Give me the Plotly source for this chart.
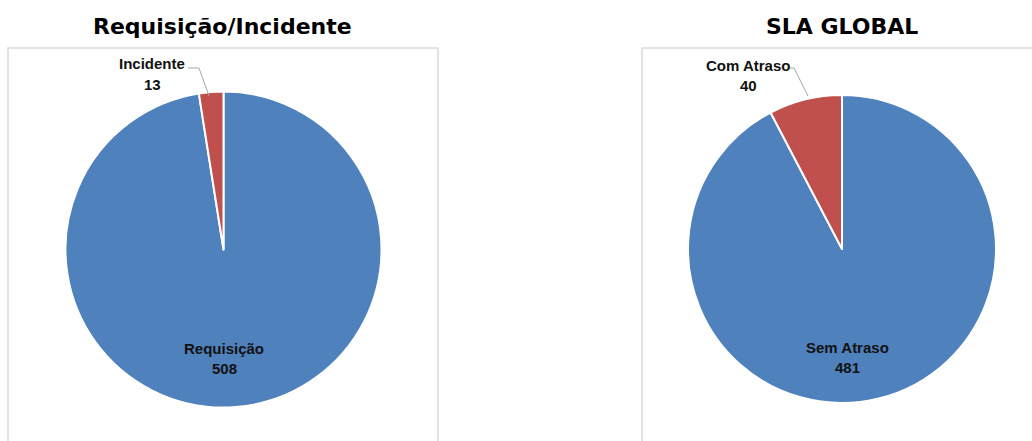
import plotly.graph_objects as go

W, H = 1032, 441

# Data
titles = ["Requisição/Incidente", "SLA GLOBAL"]
labels_1 = ["Requisição", "Incidente"]
values_1 = [508, 13]
labels_2 = ["Sem Atraso", "Com Atraso"]
values_2 = [481, 40]

BLUE = "#4F81BD"
RED = "#C0504D"
colors = [BLUE, RED]

def px_dom(cx, cy, r):
    # convert pixel centre/radius to paper domain (y measured from top in pixels)
    return dict(x=[(cx - r) / W, (cx + r) / W],
                y=[(H - cy - r) / H, (H - cy + r) / H])

fig = go.Figure()
fig.add_trace(go.Pie(labels=labels_1, values=values_1, sort=False,
                     direction="clockwise", rotation=0,
                     marker=dict(colors=colors, line=dict(color="white", width=2)),
                     textinfo="none", hoverinfo="label+value",
                     domain=px_dom(223.5, 249.5, 158), showlegend=False))
fig.add_trace(go.Pie(labels=labels_2, values=values_2, sort=False,
                     direction="clockwise", rotation=0,
                     marker=dict(colors=colors, line=dict(color="white", width=2)),
                     textinfo="none", hoverinfo="label+value",
                     domain=px_dom(842, 249, 154), showlegend=False))

def P(x, y):
    return x / W, 1 - y / H

shapes = []
# chart area boxes
for x0, x1 in [(8, 438), (642, 1040)]:
    a0, b0 = P(x0, 48)
    a1, b1 = P(x1, 460)
    shapes.append(dict(type="rect", xref="paper", yref="paper", x0=a0, x1=a1,
                       y0=b1, y1=b0, line=dict(color="#D9D9D9", width=1.5),
                       fillcolor="rgba(0,0,0,0)", layer="below"))

# leader lines
def leader(pts):
    path = "M " + " L ".join(f"{x/W},{1 - y/H}" for x, y in pts)
    return dict(type="path", xref="paper", yref="paper", path=path,
                line=dict(color="#A6A6A6", width=1))
shapes.append(leader([(188, 68), (199, 68), (209, 96)]))
shapes.append(leader([(790, 68), (794, 68), (808, 96)]))

ann = []
tfont = dict(family="DejaVu Sans", size=22, color="black")
for t, x in zip(titles, [222, 842]):
    ax, ay = P(x, 27)
    ann.append(dict(text=f"<b>{t}</b>", x=ax, y=ay, xref="paper", yref="paper",
                    showarrow=False, font=tfont, xanchor="center", yanchor="middle"))

lfont = dict(family="Liberation Sans", size=15, color="#111111")
label_pos = [
    (labels_1[0], values_1[0], 224, 348),
    (labels_1[1], values_1[1], 152, 64),
    (labels_2[0], values_2[0], 847, 347),
    (labels_2[1], values_2[1], 748, 65),
]
for lab, val, x, y in label_pos:
    ax, ay = P(x, y)
    ann.append(dict(text=f"<b>{lab}</b>", x=ax, y=ay, xref="paper", yref="paper",
                    showarrow=False, font=lfont, xanchor="center", yanchor="middle"))
    ax, ay = P(x, y + 20)
    ann.append(dict(text=f"<b>{val}</b>", x=ax, y=ay, xref="paper", yref="paper",
                    showarrow=False, font=lfont, xanchor="center", yanchor="middle"))

fig.update_layout(width=W, height=H, margin=dict(l=0, r=0, t=0, b=0),
                  paper_bgcolor="white", plot_bgcolor="white",
                  shapes=shapes, annotations=ann)

fig.write_html("out.html")
